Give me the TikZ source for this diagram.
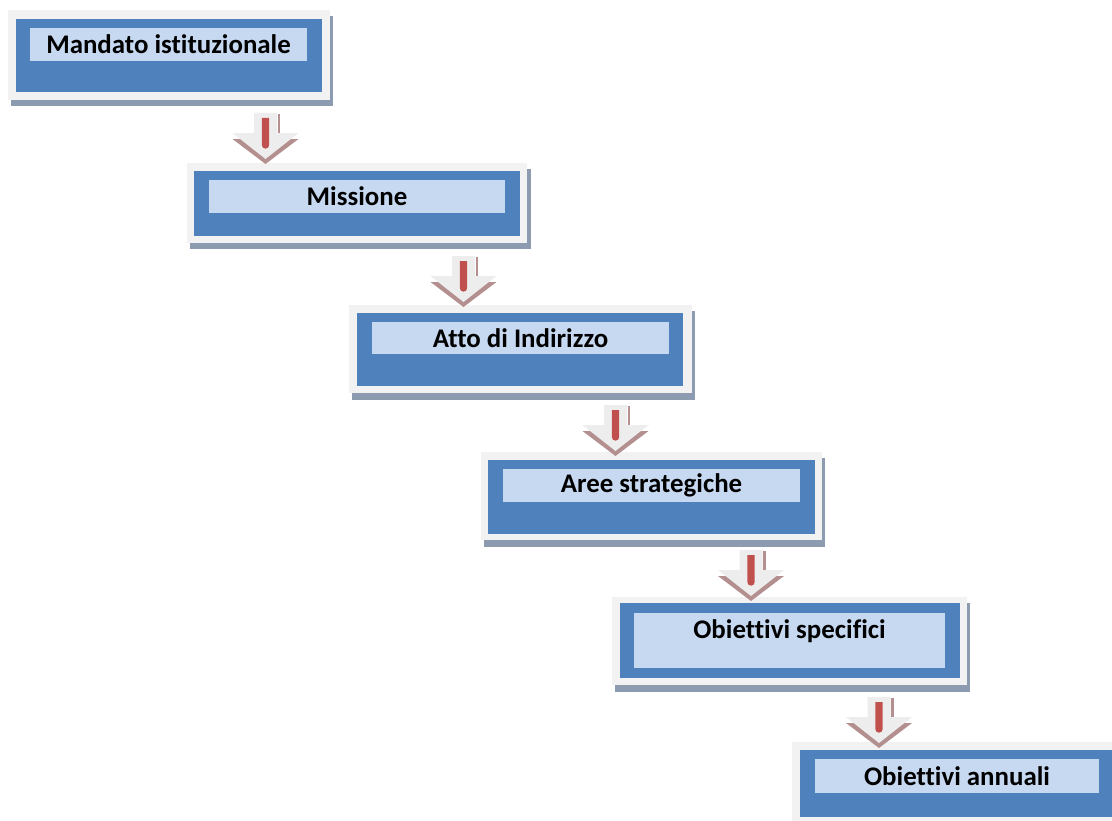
\documentclass[tikz,border=0pt]{standalone}
\usepackage{fontspec}
\setmainfont{Carlito}[RawFeature={-liga;-clig}]
\definecolor{framec}{HTML}{F2F2F2}
\definecolor{bluec}{HTML}{4F81BD}
\definecolor{lblc}{HTML}{C6D9F1}
\definecolor{shadc}{HTML}{8C9BB0}
\definecolor{redc}{HTML}{C0504D}
\definecolor{arrshad}{HTML}{B38F8F}
\definecolor{arrbody}{HTML}{EDEDED}
\tikzset{
  boxtext/.style={inner sep=0pt, font=\fontsize{15.3}{18}\selectfont\bfseries, text=black},
  pics/downarr/.style={code={
    \fill[arrshad] (-33,26) -- (33,26) -- (0,51) -- cycle;
    \fill[arrshad] (12,1) rectangle (14.5,25);
    \fill[arrbody] (-11.5,0) -- (11.5,0) -- (11.5,20) -- (33,20) -- (0,46) -- (-33,20) -- (-11.5,20) -- cycle;
    \fill[redc] (-3.7,5) -- (3.7,5) -- (3.7,32) arc[start angle=0,end angle=180,radius=3.7] -- cycle;
  }}
}
\begin{document}
\begin{tikzpicture}[x=0.02cm,y=-0.02cm]
\useasboundingbox (0,0) rectangle (1112,821);
\fill[white] (0,0) rectangle (1112,821);
% Box 1
\fill[shadc] (11,16) rectangle (333,106);
\fill[framec] (8,10) rectangle (330,100);
\fill[bluec] (16,19) rectangle (322,92);
\fill[lblc] (30,28) rectangle (307,61);
\node[boxtext] (b1) at (168.5,44.5) {Mandato istituzionale};
% Box 2
\fill[shadc] (190,169) rectangle (531,249);
\fill[framec] (187,163) rectangle (527,243);
\fill[bluec] (194,171) rectangle (520,236);
\fill[lblc] (209,180) rectangle (505,213);
\node[boxtext] (b2) at (357,196.5) {Missione};
% Box 3
\fill[shadc] (352,311) rectangle (695,400);
\fill[framec] (349,305) rectangle (692,393);
\fill[bluec] (357,313) rectangle (683,386);
\fill[lblc] (372,322) rectangle (669,354);
\node[boxtext] (b3) at (520.5,338) {Atto di Indirizzo};
% Box 4
\fill[shadc] (484,458) rectangle (825,547);
\fill[framec] (481,452) rectangle (822,540);
\fill[bluec] (488,460) rectangle (815,534);
\fill[lblc] (503,469) rectangle (800,502);
\node[boxtext] (b4) at (651.5,485.5) {Aree strategiche};
% Box 5
\fill[shadc] (615,603) rectangle (970,692);
\fill[framec] (612,597) rectangle (967,685);
\fill[bluec] (620,603) rectangle (960,678);
\fill[lblc] (634,613) rectangle (945,668);
\node[boxtext] (b5) at (789.5,631) {Obiettivi specifici};
% Box 6
\fill[framec] (792,742) rectangle (1112,821);
\fill[bluec] (800,750) rectangle (1112,817);
\fill[lblc] (815,759) rectangle (1099,793);
\node[boxtext] (b6) at (957,776) {Obiettivi annuali};
% Arrows
\pic at (265.5,113) {downarr};
\pic at (463.5,256) {downarr};
\pic at (615.5,405) {downarr};
\pic at (751,550) {downarr};
\pic at (879,697) {downarr};
\end{tikzpicture}
\end{document}
